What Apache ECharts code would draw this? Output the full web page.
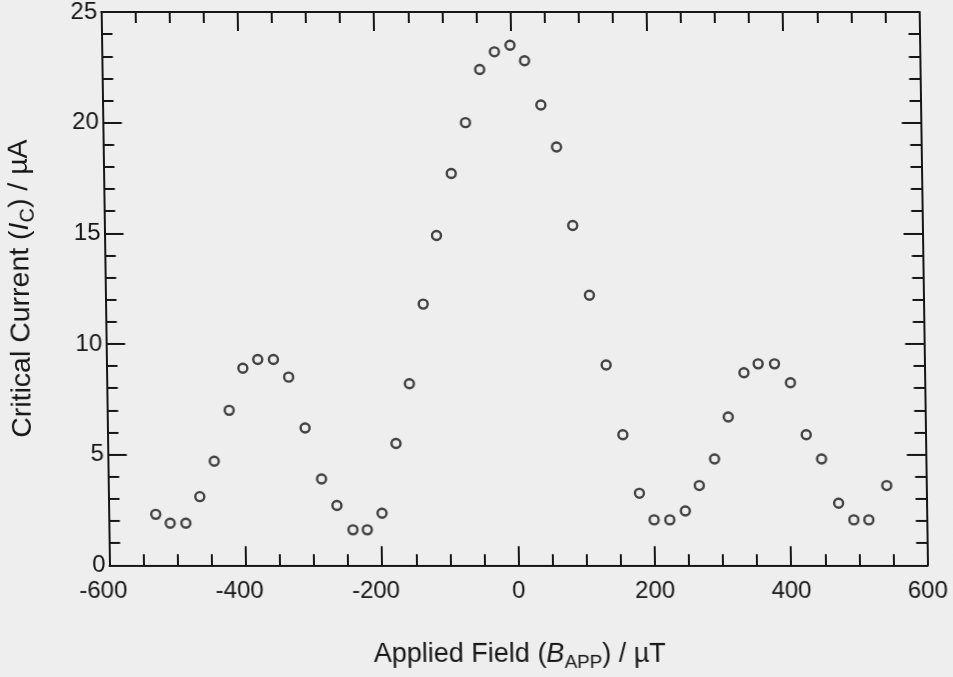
<!DOCTYPE html>
<html>
<head>
<meta charset="utf-8">
<script src="https://cdn.jsdelivr.net/npm/echarts@6/dist/echarts.min.js"></script>
<style>
  html, body { margin: 0; padding: 0; background: #eeeeee; overflow: hidden; }
  /* the scanned original leans a little to the right at the bottom */
  #chart { width: 953px; height: 677px; transform-origin: 0 566px; transform: skewX(0.86deg); }
</style>
</head>
<body>
<div id="chart"></div>
<script>
  // applied field (uT) and critical current (uA)
  const fieldVals = [-531, -510, -487, -466, -444, -421, -400, -378, -355, -333,
    -310, -287, -265, -242, -221, -199, -177, -156, -134, -113,
    -90, -68, -46, -24, -1, 20, 43, 65, 87, 110,
    133, 156, 179, 200, 223, 246, 267, 290, 311, 335,
    356, 380, 403, 425, 447, 471, 493, 515, 542];
  const currentVals = [2.3, 1.9, 1.9, 3.1, 4.7, 7.0, 8.9, 9.3, 9.3, 8.5,
    6.2, 3.9, 2.7, 1.6, 1.6, 2.35, 5.5, 8.2, 11.8, 14.9,
    17.7, 20.0, 22.4, 23.2, 23.5, 22.8, 20.8, 18.9, 15.35, 12.2,
    9.05, 5.9, 3.25, 2.05, 2.05, 2.45, 3.6, 4.8, 6.7, 8.7,
    9.1, 9.1, 8.25, 5.9, 4.8, 2.8, 2.05, 2.05, 3.6];
  const xTicks = { min: -600, max: 600, step: 200 };
  const yTicks = { min: 0, max: 25, step: 5 };

  const ink = '#161616';
  const font = 'Liberation Sans, Arial, Helvetica, sans-serif';

  const points = fieldVals.map((x, i) => [x, currentVals[i]]);

  function titleStyle(size) {
    return {
      color: ink, fontSize: size, fontFamily: font,
      rich: {
        i: { fontStyle: 'italic', fontSize: size, fontFamily: font, color: ink },
        sub: { fontSize: size * 0.7, fontFamily: font, color: ink, padding: [size * 0.62, 0, 0, 0] }
      }
    };
  }

  function boxAxis(range, split, extra) {
    return Object.assign({
      type: 'value',
      min: range.min,
      max: range.max,
      interval: range.step,
      splitLine: { show: false },
      axisLine: { show: true, onZero: false, lineStyle: { color: ink, width: 2 } },
      axisTick: { show: true, inside: true, length: 19, lineStyle: { color: ink, width: 2 } },
      minorTick: { show: true, splitNumber: split, length: 11, lineStyle: { color: ink, width: 2 } },
      axisLabel: { show: false }
    }, extra || {});
  }

  const chart = echarts.init(document.getElementById('chart'));
  chart.setOption({
    backgroundColor: '#eeeeee',
    animation: false,
    grid: { left: 109.5, right: 25.5, top: 9, bottom: 111 },
    xAxis: [
      boxAxis(xTicks, 4, {
        position: 'bottom',
        axisLabel: {
          color: ink, fontSize: 24, fontFamily: font, margin: 14,
          // minus sign hangs to the left, digits stay centred on the tick
          formatter: v => v < 0 ? '{neg|' + v + '}' : String(v),
          rich: { neg: { color: ink, fontSize: 24, fontFamily: font, padding: [0, 13, 0, 0] } }
        },
        name: 'Applied Field ({i|B}{sub|APP}) / µT',
        nameLocation: 'middle',
        nameGap: 71,
        nameTextStyle: titleStyle(27)
      }),
      boxAxis(xTicks, 4, { position: 'top' })
    ],
    yAxis: [
      boxAxis(yTicks, 5, {
        position: 'left',
        axisLabel: { color: ink, fontSize: 24, fontFamily: font, margin: 4 },
        name: 'Critical Current ({i|I}{sub|C}) / µA',
        nameLocation: 'middle',
        nameGap: 66,
        nameRotate: 90,
        nameTextStyle: titleStyle(28.5)
      }),
      boxAxis(yTicks, 5, { position: 'right' })
    ],
    series: [{
      type: 'scatter',
      data: points,
      symbol: 'circle',
      symbolSize: 9,
      itemStyle: { color: 'rgba(0,0,0,0)', borderColor: ink, borderWidth: 2.4 }
    }]
  });
</script>
</body>
</html>
